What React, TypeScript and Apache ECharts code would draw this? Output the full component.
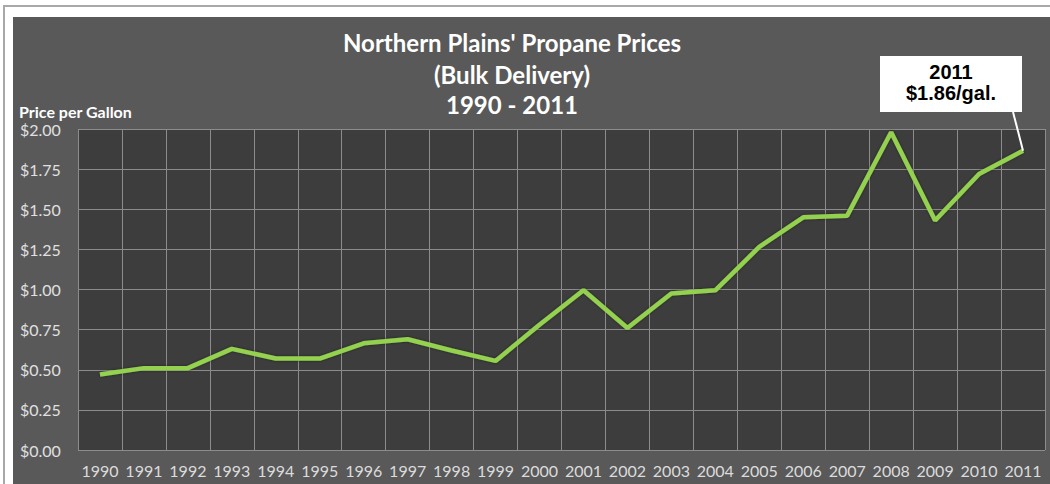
import React, { useEffect, useRef } from "react";
import * as echarts from "echarts";

const years = ["1990","1991","1992","1993","1994","1995","1996","1997","1998","1999","2000","2001","2002","2003","2004","2005","2006","2007","2008","2009","2010","2011"];
const prices = [0.47,0.51,0.51,0.63,0.57,0.57,0.665,0.69,0.62,0.555,0.78,0.995,0.76,0.975,0.995,1.265,1.45,1.46,1.98,1.43,1.72,1.865];
const titleLines = ["Northern Plains' Propane Prices", "(Bulk Delivery)", "1990 - 2011"];
const yAxisName = "Price per Gallon";
const calloutLines = ["2011", "$1.86/gal."];

export default function App() {
  const ref = useRef<HTMLDivElement>(null);
  useEffect(() => {
    if (!ref.current) return;
    const chart = echarts.init(ref.current, null, { renderer: "svg", width: 1050, height: 484 });
    const font = "Lato, 'Open Sans', sans-serif";
    chart.setOption({
      animation: false,
      backgroundColor: "#ffffff",
      grid: {
        left: 78, right: 5, top: 129, bottom: 34,
        show: true, backgroundColor: "#3d3d3d", borderWidth: 0,
      },
      xAxis: {
        type: "category",
        data: years,
        boundaryGap: true,
        axisLine: { show: false },
        axisTick: { show: false },
        axisLabel: { color: "#dcdcdc", fontSize: 16, fontFamily: font, margin: 12, interval: 0 },
        splitLine: { show: true, interval: 0, lineStyle: { color: "#8c8c8c", width: 1 } },
      },
      yAxis: {
        type: "value",
        min: 0, max: 2, interval: 0.25,
        axisLine: { show: false },
        axisTick: { show: false },
        axisLabel: {
          color: "#e0e0e0", fontSize: 16, fontFamily: font, align: "left", margin: 58,
          formatter: (v: number) => "$" + v.toFixed(2),
        },
        splitLine: { show: true, lineStyle: { color: "#8c8c8c", width: 1 } },
      },
      series: [{
        type: "line",
        data: prices,
        symbol: "none",
        lineStyle: { color: "#93d150", width: 4.5, shadowColor: "rgba(0,0,0,0.45)", shadowBlur: 3 },
        z: 5,
      }],
    });
    const pt = chart.convertToPixel({ gridIndex: 0 }, [years.length - 1, prices[prices.length - 1]]) as number[];
    chart.setOption({
      graphic: [
        { id: "frame", type: "rect", z: -20, shape: { x: 4, y: 6, width: 1050, height: 490 }, style: { fill: "#ffffff", stroke: "#a8a8a8", lineWidth: 2 } },
        { id: "panel", type: "rect", z: -10, shape: { x: 13, y: 17, width: 1040, height: 470 }, style: { fill: "#595959" } },
        ...titleLines.map((t, i) => ({
          id: "title" + i, type: "text", z: 10, x: 512, y: [42, 74, 104][i],
          style: { text: t, fill: "#ffffff", font: `bold 24px ${font}`, textAlign: "center", textVerticalAlign: "middle" },
        })),
        { id: "yname", type: "text", z: 10, x: 19, y: 111, style: { text: yAxisName, fill: "#ffffff", font: `bold 16px ${font}`, textAlign: "left", textVerticalAlign: "middle" } },
        { id: "box", type: "rect", z: 20, shape: { x: 880, y: 56, width: 142, height: 56 }, style: { fill: "#ffffff" } },
        ...calloutLines.map((t, i) => ({
          id: "call" + i, type: "text", z: 21, x: 951, y: [72, 93][i],
          style: { text: t, fill: "#000000", font: "bold 20px 'Liberation Sans', Arial, sans-serif", textAlign: "center", textVerticalAlign: "middle" },
        })),
        { id: "leader", type: "line", z: 21, shape: { x1: 1013, y1: 112, x2: pt[0], y2: pt[1] }, style: { stroke: "#ffffff", lineWidth: 2 } },
      ],
    });
    return () => chart.dispose();
  }, []);
  return <div ref={ref} style={{ position: "fixed", left: 0, top: 0, width: 1050, height: 484 }} />;
}
